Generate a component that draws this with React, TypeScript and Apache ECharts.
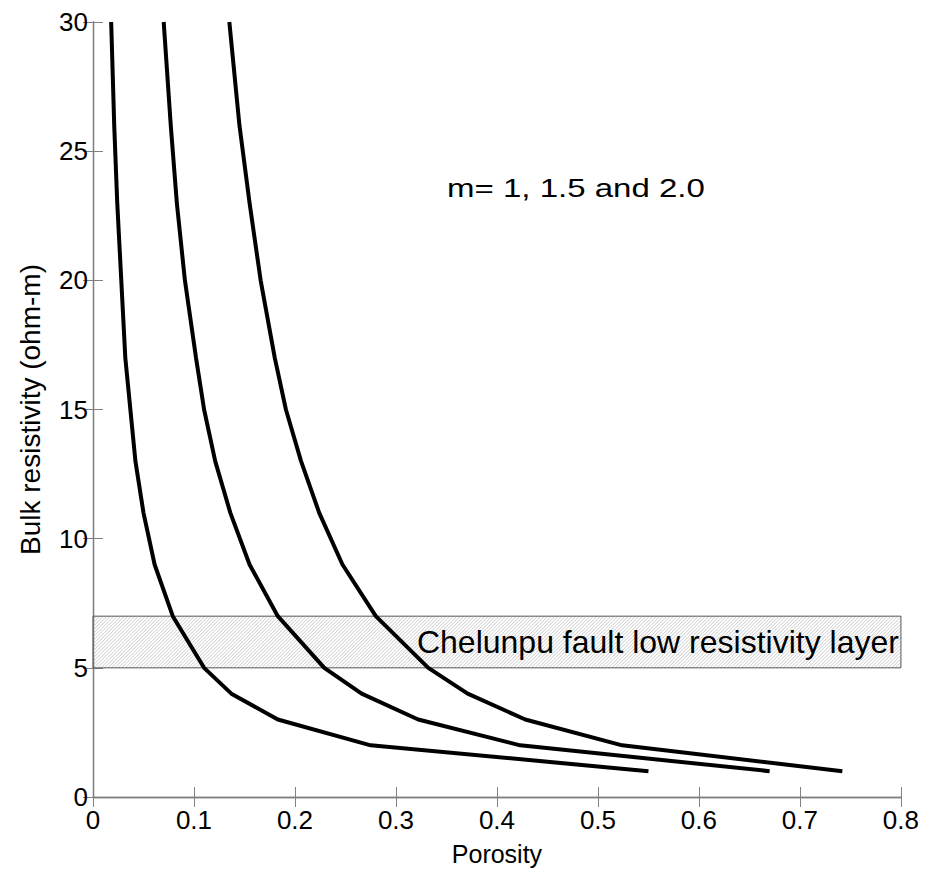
import React, { useEffect, useRef } from "react";
import * as echarts from "echarts";

const resistivity = [1, 2, 3, 4, 5, 7, 9, 11, 13, 15, 17, 20, 23, 26, 30];
const porosityM1 = [0.55, 0.275, 0.183, 0.137, 0.11, 0.079, 0.061, 0.05, 0.042, 0.037, 0.032, 0.028, 0.024, 0.021, 0.018];
const porosityM15 = [0.67, 0.423, 0.322, 0.266, 0.229, 0.183, 0.155, 0.136, 0.121, 0.11, 0.102, 0.091, 0.083, 0.077, 0.07];
const porosityM2 = [0.742, 0.524, 0.428, 0.371, 0.332, 0.28, 0.247, 0.224, 0.206, 0.191, 0.18, 0.166, 0.155, 0.145, 0.135];
const layerBand = [5, 7];
const layerLabel = "Chelunpu fault low resistivity layer";
const annotation = "m= 1, 1.5 and 2.0";
const xMin = 0, xMax = 0.8, xStep = 0.1;
const yMin = 0, yMax = 30, yStep = 5;

const FONT = "Liberation Sans, Arial, sans-serif";

export default function App() {
  const ref = useRef<HTMLDivElement>(null);
  useEffect(() => {
    if (!ref.current) return;
    const chart = echarts.init(ref.current, null, { renderer: "svg" });
    const mk = (xs: number[]) => xs.map((x, i) => [x, resistivity[i]]);
    const lineSeries = [porosityM1, porosityM15, porosityM2].map((p) => ({
      type: "line",
      data: mk(p),
      showSymbol: false,
      symbol: "none",
      lineStyle: { color: "#000", width: 4 },
      z: 5,
    }));
    const axisLine = { show: true, lineStyle: { color: "#808080", width: 1.3 } };
    const axisTick = { show: true, inside: true, length: 10, lineStyle: { color: "#808080", width: 1 } };
    const option: any = {
      animation: false,
      grid: { left: 77, right: 15, top: 14, bottom: 77 },
      xAxis: [
        {
          type: "value", min: xMin, max: xMax, interval: xStep,
          name: "Porosity", nameLocation: "middle", nameGap: 44,
          nameTextStyle: { fontFamily: FONT, fontSize: 25, color: "#000" },
          axisLine, axisTick, splitLine: { show: false },
          axisLabel: { fontFamily: FONT, fontSize: 26, color: "#000", margin: 10,
            formatter: (v: number) => (v === 0 ? "0" : String(Math.round(v * 10) / 10)) },
        },
        {
          type: "value", position: "top", min: xMin, max: xMax, interval: xStep,
          axisLine, axisTick, axisLabel: { show: false }, splitLine: { show: false },
        },
      ],
      yAxis: [
        {
          type: "value", min: yMin, max: yMax, interval: yStep,
          name: "Bulk resistivity (ohm-m)", nameLocation: "middle", nameGap: 49,
          nameTextStyle: { fontFamily: FONT, fontSize: 28, color: "#000" },
          axisLine, axisTick, splitLine: { show: false },
          axisLabel: { fontFamily: FONT, fontSize: 26, color: "#000", margin: 5 },
        },
        {
          type: "value", position: "right", min: yMin, max: yMax, interval: yStep,
          axisLine, axisTick, axisLabel: { show: false }, splitLine: { show: false },
        },
      ],
      series: [
        {
          type: "custom",
          data: [[xMin, layerBand[0], xMax, layerBand[1]]],
          z: 1,
          renderItem: (params: any, api: any) => {
            const p0 = api.coord([api.value(0), api.value(3)]);
            const p1 = api.coord([api.value(2), api.value(1)]);
            const x0 = p0[0], y0 = p0[1], x1 = p1[0], y1 = p1[1];
            const children: any[] = [];
            const step = 3.5;
            for (let c = x0 + y0; c <= x1 + y1; c += step) {
              const xa = Math.max(x0, c - y1);
              const xb = Math.min(x1, c - y0);
              if (xb <= xa) continue;
              children.push({
                type: "line",
                shape: { x1: xa, y1: c - xa, x2: xb, y2: c - xb },
                style: { stroke: "#bdbdbd", lineWidth: 0.8 },
                silent: true,
              });
            }
            children.push({
              type: "rect",
              shape: { x: x0, y: y0, width: x1 - x0, height: y1 - y0 },
              style: { fill: "none", stroke: "#555", lineWidth: 1 },
            });
            const mid = api.coord([api.value(2), (api.value(1) + api.value(3)) / 2]);
            children.push({
              type: "text",
              x: mid[0] - 2,
              y: mid[1],
              style: {
                text: layerLabel, fill: "#000", fontFamily: FONT, fontSize: 32,
                align: "right", verticalAlign: "middle",
              },
            });
            return { type: "group", children };
          },
        },
        ...lineSeries,
      ],
      graphic: [
        {
          type: "text", x: 439, y: 180, scaleX: 1.27,
          style: { text: annotation, fill: "#000", font: `26px ${FONT}`, verticalAlign: "middle" },
        },
      ],
    };
    chart.setOption(option);
    return () => chart.dispose();
  }, []);
  return <div ref={ref} style={{ width: 914, height: 866 }} />;
}
